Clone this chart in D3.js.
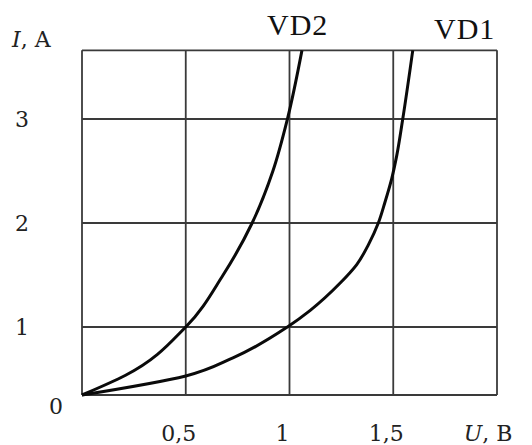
<!DOCTYPE html>
<html lang="en">
<head>
<meta charset="utf-8">
<title>VAC</title>
<script src="https://cdn.jsdelivr.net/npm/d3@7"></script>
<style>
  body { margin: 0; background: #fff; }
</style>
</head>
<body>
<script>
// forward characteristics of the two diodes
var u2 = [0, 0.21, 0.5, 0.68, 0.82, 0.92, 0.99, 1.06]
var i2 = [0, 0.29, 1, 1.5, 2, 2.5, 3, 3.66]
var u1 = [0, 0.5, 0.73, 0.99, 1.1, 1.243, 1.324, 1.38, 1.428, 1.46, 1.493, 1.517, 1.545, 1.594]
var i1 = [0, 0.28, 0.55, 1, 1.16, 1.42, 1.6, 1.79, 2, 2.2, 2.43, 2.65, 2.99, 3.66]

var xGrid = [0, 0.5, 1, 1.5, 2]
var yGrid = [0, 1, 2, 3, 3.66]
var xTicks = [0.5, 1, 1.5]
var xLabels = ["0,5", "1", "1,5"]
var yTicks = [1, 2, 3]
var yLabels = ["1", "2", "3"]

var w = 532, h = 445

var svg = d3.select("body").append("svg").attr("width", w).attr("height", h)

var x = d3.scaleLinear().domain([0, 2]).range([82, 497])
// bottom row of the picture is squashed, so the scale is piecewise
var y = d3.scaleLinear().domain([0, 1, 3]).range([395, 327, 119])

var grid = svg.append("g").attr("stroke", "#3a3a3a").attr("stroke-width", 1.8)

grid.selectAll(".vl")
  .data(xGrid)
  .enter()
  .append("line")
  .attr("class", "vl")
  .attr("x1", function(d) { return x(d) })
  .attr("x2", function(d) { return x(d) })
  .attr("y1", y(0))
  .attr("y2", y(3.66))

grid.selectAll(".hl")
  .data(yGrid)
  .enter()
  .append("line")
  .attr("class", "hl")
  .attr("y1", function(d) { return y(d) })
  .attr("y2", function(d) { return y(d) })
  .attr("x1", x(0))
  .attr("x2", x(2))

var line = d3.line()
  .x(function(d) { return x(d[0]) })
  .y(function(d) { return y(d[1]) })
  .curve(d3.curveMonotoneY)

var curves = [d3.zip(u2, i2), d3.zip(u1, i1)]

svg.selectAll(".curve")
  .data(curves)
  .enter()
  .append("path")
  .attr("class", "curve")
  .attr("d", line)
  .attr("fill", "none")
  .attr("stroke", "#0a0a0a")
  .attr("stroke-width", 3)

var lab = "DejaVu Serif"

svg.selectAll(".xt")
  .data(xTicks)
  .enter()
  .append("text")
  .attr("class", "xt")
  .attr("x", function(d) { return x(d) - 7 })
  .attr("y", 441)
  .attr("text-anchor", "middle")
  .attr("font-family", lab)
  .attr("font-size", "22px")
  .attr("fill", "#222")
  .text(function(d, i) { return xLabels[i] })

svg.selectAll(".yt")
  .data(yTicks)
  .enter()
  .append("text")
  .attr("class", "yt")
  .attr("x", 22)
  .attr("y", function(d) { return y(d) + 8 })
  .attr("text-anchor", "middle")
  .attr("font-family", lab)
  .attr("font-size", "22px")
  .attr("fill", "#222")
  .text(function(d, i) { return yLabels[i] })

svg.append("text")
  .attr("x", 56)
  .attr("y", 414)
  .attr("text-anchor", "middle")
  .attr("font-family", lab)
  .attr("font-size", "22px")
  .attr("fill", "#222")
  .text("0")

var ia = svg.append("text")
  .attr("x", 12)
  .attr("y", 47)
  .attr("font-family", lab)
  .attr("font-size", "22px")
  .attr("fill", "#222")
ia.append("tspan").attr("font-style", "italic").text("I")
ia.append("tspan").text(", A")

var ub = svg.append("text")
  .attr("x", 488)
  .attr("y", 441)
  .attr("text-anchor", "middle")
  .attr("font-family", lab)
  .attr("font-size", "22px")
  .attr("fill", "#222")
ub.append("tspan").attr("font-style", "italic").text("U")
ub.append("tspan").text(", B")

svg.append("text")
  .attr("x", 267)
  .attr("y", 35)
  .attr("font-family", "Liberation Serif")
  .attr("font-size", "30px")
  .attr("letter-spacing", "1px")
  .attr("fill", "#111")
  .text("VD2")

svg.append("text")
  .attr("x", 434)
  .attr("y", 39)
  .attr("font-family", "Liberation Serif")
  .attr("font-size", "30px")
  .attr("letter-spacing", "1px")
  .attr("fill", "#111")
  .text("VD1")
</script>
</body>
</html>
